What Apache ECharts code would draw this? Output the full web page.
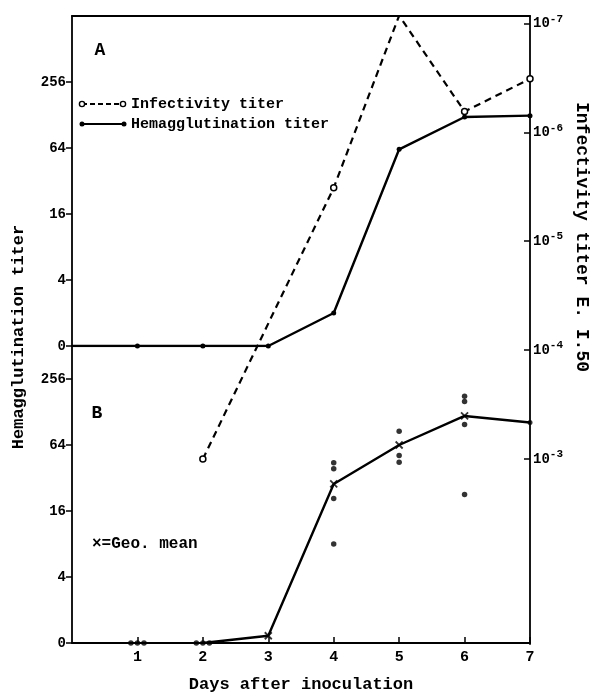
<!DOCTYPE html>
<html><head><meta charset="utf-8">
<script src="https://cdn.jsdelivr.net/npm/echarts@6/dist/echarts.min.js"></script>
<style>html,body{margin:0;padding:0;background:#fff}#c{width:599px;height:694px}</style>
</head><body><div id="c"></div>
<script>
// ---- data ----
const dayTicks = [1, 2, 3, 4, 5, 6, 7];
const hemaTickVals = [0, 1, 2, 3, 4];            // log4 positions
const hemaTickLabels = ['0', '4', '16', '64', '256'];
const infectTickVals = [3, 4, 5, 6, 7];          // -log10 E.I.50
// Panel A: infectivity titer (-log10), dashed
const infectDays = [2, 4, 5, 6, 7];
const infectVals = [3.0, 5.49, 7.07, 6.19, 6.49];
// Panel A: hemagglutination titer (log4), solid
const hemaADays = [0, 1, 2, 3, 4, 5, 6, 7];
const hemaAVals = [0, 0, 0, 0, 0.5, 2.98, 3.47, 3.49];
// Panel B: individual hemagglutination titers (log4)
const indivDays = [0.9, 1, 1.1, 1.9, 2, 2.1, 4, 4, 4, 4, 5, 5, 5, 6, 6, 6, 6];
const indivVals = [0, 0, 0, 0, 0, 0, 2.73, 2.64, 2.19, 1.50, 3.21, 2.84, 2.74, 3.74, 3.66, 3.31, 2.25];
// Panel B: geometric mean (log4)
const meanDays = [2, 3, 4, 5, 6, 7];
const meanVals = [0, 0.11, 2.41, 3.0, 3.44, 3.34];

const FONT = 'Liberation Mono';
const black = '#000';
const chart = echarts.init(document.getElementById('c'), null, {renderer: 'canvas'});
const xSym = 'path://M0,0L10,10M10,0L0,10';

const option = {
  backgroundColor: '#fff',
  animation: false,
  grid: [
    {left: 72, right: 69, top: 16, height: 330},
    {left: 72, right: 69, top: 346, height: 298},
    {left: 72, right: 69, top: 16, height: 628}
  ],
  xAxis: [
    {gridIndex: 0, type: 'value', min: 0, max: 7, position: 'top',
     axisLine: {show: true, onZero: false, lineStyle: {color: black, width: 1.8}},
     axisTick: {show: false}, axisLabel: {show: false}, splitLine: {show: false}},
    {gridIndex: 1, type: 'value', min: 0, max: 7, interval: 1, position: 'bottom',
     axisLine: {show: true, onZero: false, lineStyle: {color: black, width: 1.8}},
     axisTick: {show: true, inside: true, length: 6, customValues: dayTicks, lineStyle: {color: black, width: 1.5}},
     axisLabel: {show: true, customValues: dayTicks, color: black, fontFamily: FONT, fontWeight: 'bold', fontSize: 15, margin: 7},
     splitLine: {show: false},
     name: 'Days after inoculation', nameLocation: 'middle', nameGap: 33,
     nameTextStyle: {color: black, fontFamily: FONT, fontWeight: 'bold', fontSize: 17}},
    {gridIndex: 2, type: 'value', min: 0, max: 7, show: false}
  ],
  yAxis: [
    {gridIndex: 0, type: 'value', min: 0, max: 5,
     axisLine: {show: true, onZero: false, lineStyle: {color: black, width: 1.8}},
     axisTick: {show: true, inside: false, length: 6, customValues: hemaTickVals, lineStyle: {color: black, width: 1.5}},
     axisLabel: {show: true, customValues: hemaTickVals, formatter: v => hemaTickLabels[hemaTickVals.indexOf(v)],
       color: black, fontFamily: FONT, fontWeight: 'bold', fontSize: 14, margin: 6},
     splitLine: {show: false}},
    {gridIndex: 1, type: 'value', min: 0, max: 4.5,
     axisLine: {show: true, onZero: false, lineStyle: {color: black, width: 1.8}},
     axisTick: {show: true, inside: false, length: 6, customValues: hemaTickVals, lineStyle: {color: black, width: 1.5}},
     axisLabel: {show: true, customValues: hemaTickVals, formatter: v => hemaTickLabels[hemaTickVals.indexOf(v)],
       color: black, fontFamily: FONT, fontWeight: 'bold', fontSize: 14, margin: 6},
     splitLine: {show: false}},
    {gridIndex: 2, type: 'value', min: 1.303, max: 7.067, position: 'right',
     axisLine: {show: true, onZero: false, lineStyle: {color: black, width: 1.8}},
     axisTick: {show: true, inside: true, length: 6, customValues: infectTickVals, lineStyle: {color: black, width: 1.5}},
     axisLabel: {show: true, customValues: infectTickVals, margin: 3,
       formatter: v => '{b|10}{s|-' + v + '}',
       rich: {b: {fontFamily: FONT, fontWeight: 'bold', fontSize: 14, color: black},
              s: {fontFamily: FONT, fontWeight: 'bold', fontSize: 11, color: black, padding: [0, 0, 9, 0]}}},
     splitLine: {show: false}}
  ],
  series: [
    {type: 'line', xAxisIndex: 2, yAxisIndex: 2, name: 'Infectivity titer',
     data: infectDays.map((d, i) => [d, infectVals[i]]),
     symbol: 'circle', symbolSize: 6, showAllSymbol: true,
     lineStyle: {color: black, width: 2.2, type: [7, 5]},
     itemStyle: {color: '#fff', borderColor: black, borderWidth: 1.5}, z: 3},
    {type: 'line', xAxisIndex: 0, yAxisIndex: 0, name: 'Hemagglutination titer',
     data: hemaADays.map((d, i) => ({value: [d, hemaAVals[i]], symbol: i === 0 ? 'none' : 'circle'})),
     symbolSize: 5, showAllSymbol: true,
     lineStyle: {color: black, width: 2.4},
     itemStyle: {color: black}, z: 4},
    {type: 'line', xAxisIndex: 1, yAxisIndex: 1, name: 'Geo. mean',
     data: meanDays.map((d, i) => [d, meanVals[i]]),
     symbol: 'none', lineStyle: {color: black, width: 2.4}, z: 3},
    {type: 'scatter', xAxisIndex: 1, yAxisIndex: 1, name: 'mean marks',
     data: meanDays.map((d, i) => ({value: [d, meanVals[i]],
       symbol: i === 0 ? 'none' : (i === meanDays.length - 1 ? 'circle' : xSym),
       symbolSize: i === meanDays.length - 1 ? 5 : 7,
       itemStyle: i === meanDays.length - 1 ? {color: black} : {color: 'rgba(0,0,0,0)', borderColor: black, borderWidth: 1.8}})),
     z: 5},
    {type: 'scatter', xAxisIndex: 1, yAxisIndex: 1, name: 'individual',
     data: indivDays.map((d, i) => [d, indivVals[i]]),
     symbol: 'circle', symbolSize: 5.5, itemStyle: {color: black}, z: 5}
  ],
  graphic: [
    {type: 'text', x: 100, y: 50, style: {text: 'A', font: 'bold 18px "Liberation Mono"', fill: black, align: 'center', verticalAlign: 'middle'}},
    {type: 'text', x: 97, y: 413, style: {text: 'B', font: 'bold 18px "Liberation Mono"', fill: black, align: 'center', verticalAlign: 'middle'}},
    {type: 'text', x: 92, y: 544, style: {text: '×=Geo. mean', font: 'bold 16px "Liberation Mono"', fill: black, align: 'left', verticalAlign: 'middle'}},
    // legend
    {type: 'line', shape: {x1: 82, y1: 104, x2: 123, y2: 104}, style: {stroke: black, lineWidth: 1.8, lineDash: [5, 3]}},
    {type: 'circle', shape: {cx: 82, cy: 104, r: 2.6}, style: {fill: '#fff', stroke: black, lineWidth: 1.4}},
    {type: 'circle', shape: {cx: 123, cy: 104, r: 2.6}, style: {fill: '#fff', stroke: black, lineWidth: 1.4}},
    {type: 'text', x: 131, y: 104, style: {text: 'Infectivity titer', font: 'bold 15px "Liberation Mono"', fill: black, align: 'left', verticalAlign: 'middle'}},
    {type: 'line', shape: {x1: 82, y1: 124, x2: 124, y2: 124}, style: {stroke: black, lineWidth: 2.2}},
    {type: 'circle', shape: {cx: 82, cy: 124, r: 2.5}, style: {fill: black}},
    {type: 'circle', shape: {cx: 124, cy: 124, r: 2.5}, style: {fill: black}},
    {type: 'text', x: 131, y: 124, style: {text: 'Hemagglutination titer', font: 'bold 15px "Liberation Mono"', fill: black, align: 'left', verticalAlign: 'middle'}},
    // axis titles
    {type: 'text', x: 19, y: 337, rotation: Math.PI / 2, style: {text: 'Hemagglutination titer', font: 'bold 17px "Liberation Mono"', fill: black, align: 'center', verticalAlign: 'middle'}},
    {type: 'text', x: 582, y: 237, rotation: -Math.PI / 2, style: {text: 'Infectivity titer E. I.50', font: 'bold 18px "Liberation Mono"', fill: black, align: 'center', verticalAlign: 'middle'}}
  ]
};
chart.setOption(option);
</script>
</body></html>
